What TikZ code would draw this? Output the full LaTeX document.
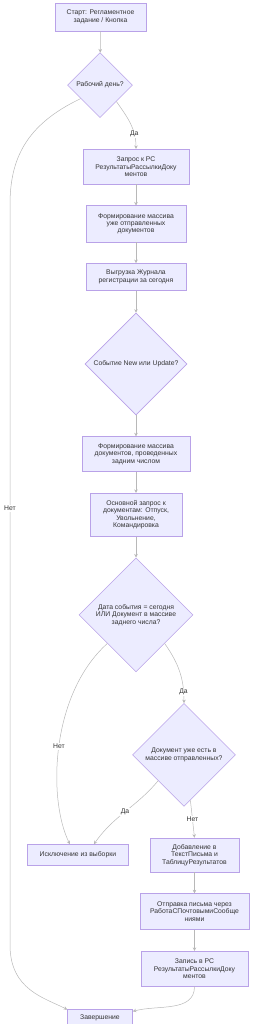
\documentclass[tikz,border=0pt]{standalone}
\usepackage{fontspec}
\setmainfont{Liberation Sans}
\usepackage{tikz}
\usetikzlibrary{shapes.geometric,arrows.meta,positioning,calc}
\definecolor{nodefill}{HTML}{ECECFF}
\definecolor{nodeline}{HTML}{9370DB}
\definecolor{txt}{HTML}{333333}
\begin{document}
\begin{tikzpicture}[
    x=1pt, y=-1pt,
    box/.style={rectangle, draw=nodeline!65, fill=nodefill, line width=0.6pt, inner sep=1pt, align=center, text=txt, font=\fontsize{6.8}{7.4}\selectfont},
    decision/.style={diamond, aspect=1, draw=nodeline!65, fill=nodefill, line width=0.6pt, inner sep=0pt, align=center, text=txt, font=\fontsize{6.8}{7.4}\selectfont},
    arrow/.style={->, >={Stealth[length=3.5pt, width=3.5pt]}, line width=0.5pt, black!28},
    lbl/.style={fill=white, inner sep=1pt, text=txt, font=\fontsize{6.8}{7.4}\selectfont},
]
\useasboundingbox (0,0) rectangle (252,1024);
\node[box, minimum width=91pt, minimum height=28pt] (start) at (100.5,17) {Старт: Регламентное\\задание / Кнопка};
\node[decision, minimum size=65pt, below=21pt of start, xshift=-0.5pt] (workday) {Рабочий день?};
\node[box, minimum width=106pt, minimum height=35pt, below=31pt of workday, xshift=36pt] (query) {Запрос к РС\\РезультатыРассылкиДоку\\ментов};
\node[box, minimum width=100pt, minimum height=36pt, below=21pt of query] (sentarr) {Формирование массива\\уже отправленных\\документов};
\node[box, minimum width=100pt, minimum height=27pt, below=21pt of sentarr] (journal) {Выгрузка Журнала\\регистрации за сегодня};
\node[decision, minimum size=102pt, below=22pt of journal] (event) {Событие New или Update?};
\node[box, minimum width=108pt, minimum height=35pt, below=21pt of event] (backarr) {Формирование массива\\документов, проведенных\\задним числом};
\node[box, minimum width=92pt, minimum height=43pt, below=21pt of backarr] (mainq) {Основной запрос к\\документам: Отпуск,\\Увольнение,\\Командировка};
\node[decision, minimum size=114pt, below=21pt of mainq] (dateq) {Дата события = сегодня\\ИЛИ Документ в массиве\\заднего числа?};
\node[decision, minimum size=103pt, below=31pt of dateq, xshift=48pt] (sentq) {Документ уже есть в\\массиве отправленных?};
\node[box, minimum width=89pt, minimum height=34pt, below=31pt of sentq, xshift=10.5pt] (add) {Добавление в\\ТекстПисьма и\\ТаблицуРезультатов};
\node[box, minimum width=101pt, minimum height=21pt, left=21pt of add] (excl) {Исключение из выборки};
\node[box, minimum width=109pt, minimum height=36pt, below=21pt of add] (mail) {Отправка письма через\\РаботаСПочтовымиСообще\\ниями};
\node[box, minimum width=107pt, minimum height=35pt, below=21pt of mail] (record) {Запись в РС\\РезультатыРассылкиДоку\\ментов};
\node[box, minimum width=65pt, minimum height=19pt, below=22pt of record, xshift=-94.5pt] (finish) {Завершение};
\draw[arrow] (start) -- (workday);
\draw[arrow] (workday.south east) to[out=-55, in=90] node[lbl, pos=0.72] {Да} (query.north);
\draw[arrow] (workday.215) .. controls (25,125) and (10,160) .. (10,205) -- node[lbl, pos=0.41] {Нет} (10,945) .. controls (10,990) and (45,998) .. (finish.165);
\draw[arrow] (query) -- (sentarr);
\draw[arrow] (sentarr) -- (journal);
\draw[arrow] (journal) -- (event);
\draw[arrow] (event) -- (backarr);
\draw[arrow] (backarr) -- (mainq);
\draw[arrow] (mainq) -- (dateq);
\draw[arrow] (dateq.south east) to[out=-55, in=90] node[lbl, pos=0.84] {Да} (sentq.north);
\draw[arrow] (dateq.south west) .. controls (50,695) and (48,800) .. node[lbl, pos=0.5] {Нет} ([xshift=-8pt]excl.north);
\draw[arrow] (sentq.south west) to[out=-130, in=55] node[lbl, pos=0.5] {Да} ([xshift=16pt]excl.north);
\draw[arrow] (sentq.-82) -- node[lbl, pos=0.5] {Нет} (add.north);
\draw[arrow] (add) -- (mail);
\draw[arrow] (mail) -- (record);
\draw[arrow] (record.south) to[out=-90, in=15] (finish.12);
\end{tikzpicture}
\end{document}
